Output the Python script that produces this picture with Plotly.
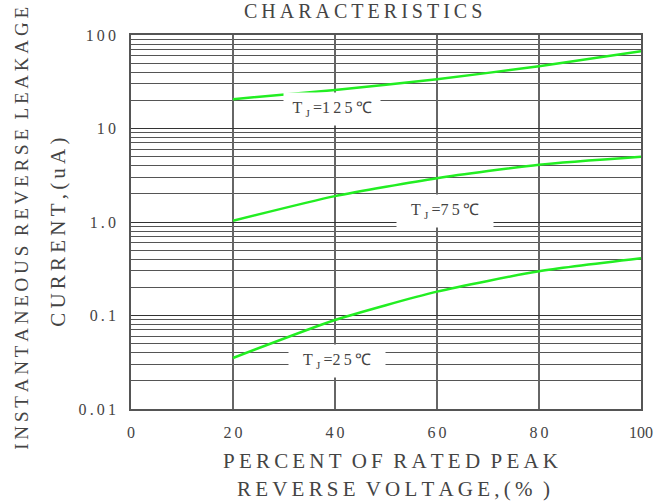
import math
import plotly.graph_objects as go

# Data
voltage_pct = [20, 40, 60, 80, 100]
leak_125 = [20.6, 25.8, 33.7, 46.3, 67.0]
leak_75 = [1.03, 1.89, 2.94, 4.10, 4.99]
leak_25 = [0.0351, 0.0895, 0.180, 0.297, 0.409]

TS = "\u2009"  # thin space for letter spacing


def spaced(s):
    return TS.join(s)


x_ticks = [0, 20, 40, 60, 80, 100]
x_ticktext = [spaced("0"), spaced("20"), spaced("40"), spaced("60"), spaced("80"), "100"]
y_ticks = [0.01, 0.1, 1, 10, 100]
y_ticktext = [spaced(t) for t in ["0.01", "0.1", "1.0", "10", "100"]]
y_minor = [m * d for d in [0.01, 0.1, 1, 10] for m in range(2, 10)]

labels = [
    ("125", 39.4, 16.0),
    ("75", 61.5, 1.30),
    ("25", 40.4, 0.0326),
]

FONT = "Liberation Serif"
TXT = "#444444"
GREEN = "#22ee22"

fig = go.Figure()
for ys in (leak_125, leak_75, leak_25):
    fig.add_trace(go.Scatter(x=voltage_pct, y=ys, mode="lines",
                             line=dict(color=GREEN, width=2.5, shape="spline", smoothing=0.6),
                             showlegend=False, hoverinfo="skip"))

for t, lx, ly in labels:
    fig.add_annotation(x=lx, y=math.log10(ly), yref="y", xref="x",
                       text="T" + TS + "<sub>J</sub>" + TS + "=" + spaced(t) + TS + "℃",
                       showarrow=False, xanchor="center", yanchor="middle",
                       bgcolor="white", width=94, height=30,
                       font=dict(family=FONT, size=16, color=TXT))


def paper_text(text, px, py, size, angle=0):
    fig.add_annotation(x=(px - 131) / 510, y=(409 - py) / 373.5, xref="paper", yref="paper",
                       showarrow=False, xanchor="center", yanchor="middle", textangle=angle,
                       text=text, font=dict(family=FONT, size=size, color=TXT))


def words(s):
    return "  ".join(spaced(w) for w in s.split(" "))


paper_text(words("CHARACTERISTICS"), 363, 11.5, 20)
paper_text(words("PERCENT OF RATED PEAK"), 390, 461, 21)
paper_text(words("REVERSE VOLTAGE,(% )"), 393, 489, 21)
paper_text(words("INSTANTANEOUS REVERSE LEAKAGE"), 22, 229, 19, -90)
paper_text(words("CURRENT,(uA)"), 58, 233, 21, -90)

fig.update_layout(
    width=654, height=501,
    margin=dict(l=131, r=13, t=35, b=92, autoexpand=False),
    paper_bgcolor="white", plot_bgcolor="white",
    xaxis=dict(range=[0, 100], tickvals=x_ticks, ticktext=x_ticktext,
               showgrid=True, gridcolor="#666666", gridwidth=1.5,
               showline=True, linecolor="#555555", linewidth=1.5, mirror=True,
               zeroline=False, ticks="", ticklabelstandoff=8, automargin=False,
               ticklabeloverflow="allow",
               tickfont=dict(family=FONT, size=16, color=TXT)),
    yaxis=dict(type="log", range=[-2, 2], tickvals=y_ticks, ticktext=y_ticktext,
               showgrid=True, gridcolor="#333333", gridwidth=1,
               minor=dict(tickvals=y_minor, showgrid=True, gridcolor="#555555", gridwidth=1, ticks=""),
               showline=True, linecolor="#555555", linewidth=1.5, mirror=True,
               zeroline=False, ticks="", ticklabelstandoff=10, automargin=False,
               ticklabeloverflow="allow",
               tickfont=dict(family=FONT, size=16, color=TXT)),
)

fig.write_html("out.html", config={"displayModeBar": False},
               post_script="document.body.style.margin='0';document.body.style.overflow='hidden';")
